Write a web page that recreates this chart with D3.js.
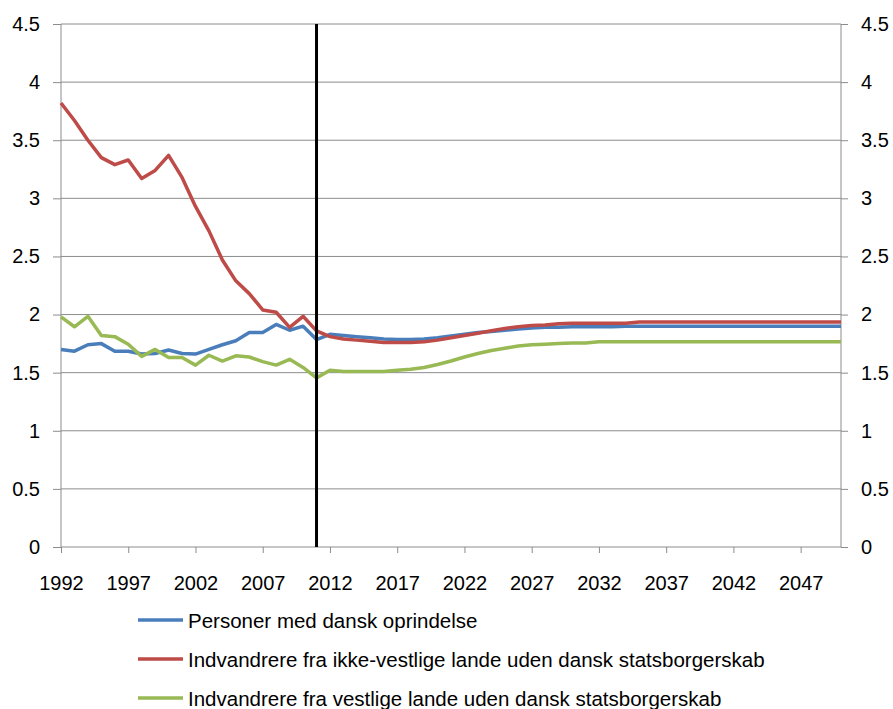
<!DOCTYPE html>
<html>
<head>
<meta charset="utf-8">
<script src="https://cdn.jsdelivr.net/npm/d3@7"></script>
<style>
  body { margin: 0; background: #fff; }
  text { font-family: 'Liberation Sans', Arial, sans-serif; fill: #000; }
</style>
</head>
<body>
<div id="canvas"></div>
<script>
const years = d3.range(1992, 2051)
const tickYears = [1992, 1997, 2002, 2007, 2012, 2017, 2022, 2027, 2032, 2037, 2042, 2047]
const yTicks = [0, 0.5, 1, 1.5, 2, 2.5, 3, 3.5, 4, 4.5]
const markerYear = 2011

const seriesNames = [
  'Personer med dansk oprindelse',
  'Indvandrere fra ikke-vestlige lande uden dansk statsborgerskab',
  'Indvandrere fra vestlige lande uden dansk statsborgerskab',
]
const seriesColors = ['#4a7ebb', '#be4b48', '#98b954']

// 1992 .. 2050
const dansk = [
  1.70, 1.685, 1.74, 1.75, 1.685, 1.685, 1.66, 1.665, 1.695, 1.665,
  1.66, 1.70, 1.74, 1.775, 1.845, 1.845, 1.915, 1.865, 1.90, 1.785,
  1.83, 1.82, 1.81, 1.80, 1.79, 1.785, 1.785, 1.79, 1.80, 1.815,
  1.83, 1.845, 1.855, 1.865, 1.875, 1.885, 1.89, 1.89, 1.895, 1.895,
  1.895, 1.895, 1.90, 1.90, 1.90, 1.90, 1.90, 1.90, 1.90, 1.90,
  1.90, 1.90, 1.90, 1.90, 1.90, 1.90, 1.90, 1.90, 1.90,
]
const ikkeVestlige = [
  3.82, 3.67, 3.50, 3.35, 3.29, 3.33, 3.17, 3.24, 3.37, 3.18,
  2.93, 2.72, 2.47, 2.29, 2.18, 2.04, 2.02, 1.89, 1.985, 1.86,
  1.81, 1.79, 1.78, 1.77, 1.76, 1.76, 1.76, 1.765, 1.78, 1.80,
  1.82, 1.84, 1.86, 1.88, 1.895, 1.905, 1.91, 1.92, 1.925, 1.925,
  1.925, 1.925, 1.925, 1.935, 1.935, 1.935, 1.935, 1.935, 1.935, 1.935,
  1.935, 1.935, 1.935, 1.935, 1.935, 1.935, 1.935, 1.935, 1.935,
]
const vestlige = [
  1.98, 1.895, 1.985, 1.82, 1.81, 1.745, 1.64, 1.70, 1.63, 1.63,
  1.565, 1.65, 1.60, 1.645, 1.635, 1.595, 1.565, 1.615, 1.545, 1.455,
  1.52, 1.51, 1.51, 1.51, 1.51, 1.52, 1.53, 1.545, 1.57, 1.60,
  1.635, 1.665, 1.69, 1.71, 1.73, 1.74, 1.745, 1.75, 1.755, 1.755,
  1.765, 1.765, 1.765, 1.765, 1.765, 1.765, 1.765, 1.765, 1.765, 1.765,
  1.765, 1.765, 1.765, 1.765, 1.765, 1.765, 1.765, 1.765, 1.765,
]
const allSeries = [dansk, ikkeVestlige, vestlige]

const width = 893
const height = 709
const margin = { top: 24, left: 61, bottom: 162, right: 52 }
const iwidth = width - margin.left - margin.right
const iheight = height - margin.top - margin.bottom

const svg = d3.select('#canvas').append('svg')
  .attr('width', width)
  .attr('height', height)

const g = svg.append('g')
  .attr('transform', `translate(${margin.left},${margin.top})`)

const x = d3.scaleLinear().domain([1992, 2050]).range([0, iwidth])
const y = d3.scaleLinear().domain([0, 4.5]).range([iheight, 0])

// gridlines
g.append('g')
  .selectAll('line')
  .data(yTicks.slice(1))
  .enter()
  .append('line')
  .attr('x1', 0)
  .attr('x2', iwidth)
  .attr('y1', (d) => y(d))
  .attr('y2', (d) => y(d))
  .attr('stroke', '#8c8c8c')
  .attr('stroke-width', 1)

// left axis
const left = g.append('g')
  .call(d3.axisLeft(y).tickValues(yTicks).tickSize(8).tickPadding(13).tickFormat(d3.format('')))
left.selectAll('text').style('font-size', '20px')

// right axis
const right = g.append('g')
  .attr('transform', `translate(${iwidth},0)`)
  .call(d3.axisRight(y).tickValues(yTicks).tickSize(7).tickPadding(13).tickFormat(d3.format('')))
right.selectAll('text').style('font-size', '20px')

// bottom axis
const bottom = g.append('g')
  .attr('transform', `translate(0,${iheight})`)
  .call(d3.axisBottom(x).tickValues(tickYears).tickSize(6).tickPadding(23).tickFormat(d3.format('d')))
bottom.selectAll('text').style('font-size', '20px')

svg.selectAll('.domain, .tick line')
  .attr('stroke', '#8c8c8c')
  .attr('stroke-width', 1)
left.select('.domain').attr('d', `M0,0V${iheight}`)
right.select('.domain').attr('d', `M0,0V${iheight}`)
bottom.select('.domain').attr('d', `M0,0H${iwidth}`)

// lines
const line = d3.line()
  .x((d, i) => x(years[i]))
  .y((d) => y(d))

allSeries.forEach((s, i) => {
  g.append('path')
    .datum(s)
    .attr('fill', 'none')
    .attr('stroke', seriesColors[i])
    .attr('stroke-width', 3.5)
    .attr('stroke-linejoin', 'round')
    .attr('d', line)
})

// vertical marker
g.append('line')
  .attr('x1', x(markerYear))
  .attr('x2', x(markerYear))
  .attr('y1', 0)
  .attr('y2', iheight)
  .attr('stroke', '#000')
  .attr('stroke-width', 3)

// legend
const legend = svg.append('g').attr('transform', 'translate(138,620)')
seriesNames.forEach((name, i) => {
  const row = legend.append('g').attr('transform', `translate(0,${i * 39})`)
  row.append('line')
    .attr('x1', 0)
    .attr('x2', 45)
    .attr('stroke', seriesColors[i])
    .attr('stroke-width', 3.5)
  row.append('text')
    .attr('x', 50)
    .attr('y', 8)
    .style('font-size', '20.5px')
    .text(name)
})
</script>
</body>
</html>
